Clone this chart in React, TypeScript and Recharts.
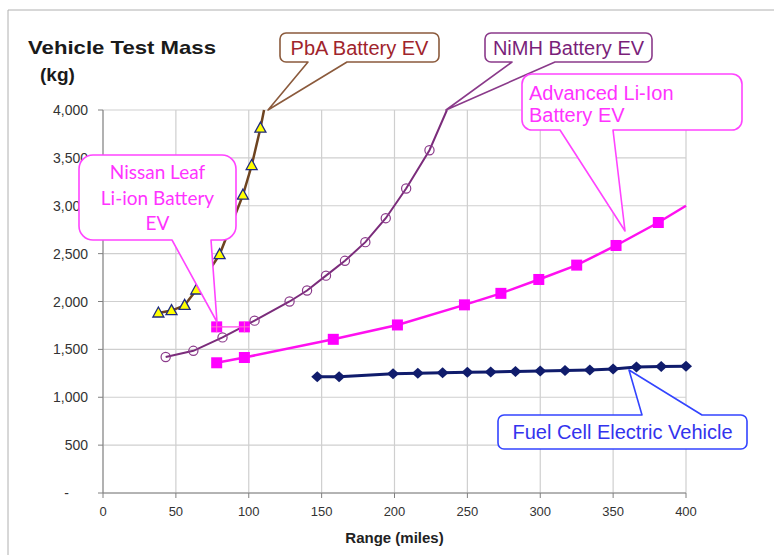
import { LineChart, Line, XAxis, YAxis, CartesianGrid } from "recharts";

// axis ticks
const xTicks = [0, 50, 100, 150, 200, 250, 300, 350, 400];
const yTicks = [0, 500, 1000, 1500, 2000, 2500, 3000, 3500, 4000];

// range (miles) / vehicle test mass (kg)
// last point of PbA, NiMH and advanced Li-ion = where the line leaves the plot
const pbaRange = [38, 47, 56, 64, 80, 96, 102, 108, 110.5];
const pbaMass = [1880, 1905, 1960, 2120, 2490, 3110, 3420, 3810, 4000];

const nimhRange = [43, 62, 82, 104, 128, 140, 153, 166, 180, 194, 208, 224, 236];
const nimhMass = [1420, 1485, 1625, 1800, 2000, 2115, 2270, 2425, 2620, 2870, 3180, 3580, 4000];

const advRange = [78, 97, 158, 202, 248, 273, 299, 325, 352, 381, 400];
const advMass = [1360, 1415, 1605, 1755, 1965, 2085, 2230, 2380, 2585, 2825, 3000];

const leafRange = [78, 97];
const leafMass = [1735, 1735];

const fcevRange = [147, 162, 199, 216, 233, 250, 266, 283, 300, 317, 334, 350, 366, 383, 400];
const fcevMass = [1215, 1215, 1245, 1250, 1255, 1260, 1265, 1270, 1275, 1280, 1285, 1295, 1315, 1322, 1325];

const zip = (xs: number[], ys: number[]) => xs.map((x, i) => ({ x, y: ys[i] }));

const pba = zip(pbaRange, pbaMass);
const nimh = zip(nimhRange, nimhMass);
const adv = zip(advRange, advMass);
const leaf = zip(leafRange, leafMass);
const fcev = zip(fcevRange, fcevMass);

const FONT = '"Liberation Sans", Arial, sans-serif';

const fmtMass = (v: number) => (v === 0 ? "-" : v.toLocaleString("en-US"));

// markers; `hide` = index of a point drawn without marker
const marker = (shape: string, hide: number | null) => (p: any) => {
  const { cx, cy, index } = p;
  const key = `${shape}-${index}`;
  if (cx == null || cy == null || index === hide) return <g key={key} />;
  if (shape === "tri")
    return (
      <polygon
        key={key}
        points={`${cx},${cy - 6} ${cx + 5.5},${cy + 4} ${cx - 5.5},${cy + 4}`}
        fill="#FFFF00"
        stroke="#1F2A80"
        strokeWidth={1.3}
      />
    );
  if (shape === "circle")
    return <circle key={key} cx={cx} cy={cy} r={4.6} fill="none" stroke="#8B3A8B" strokeWidth={1.2} />;
  if (shape === "square")
    return <rect key={key} x={cx - 5.5} y={cy - 5.5} width={11} height={11} fill="#FF00FF" />;
  if (shape === "leaf")
    return (
      <g key={key}>
        <rect x={cx - 5.5} y={cy - 5.5} width={11} height={11} fill="#FF00FF" />
        <path d={`M${cx - 5.5},${cy} H${cx + 5.5} M${cx},${cy - 5.5} V${cy + 5.5}`} stroke="#FF77CC" strokeWidth={1} />
      </g>
    );
  return (
    <polygon
      key={key}
      points={`${cx},${cy - 5.5} ${cx + 6},${cy} ${cx},${cy + 5.5} ${cx - 6},${cy}`}
      fill="#101C6C"
    />
  );
};

const XTick = (p: any) => (
  <text x={p.x} y={p.y + 16} textAnchor="middle" fontSize={13} fill="#333" fontFamily={FONT}>
    {p.payload.value}
  </text>
);

const YTick = (p: any) => {
  const v = p.payload.value;
  return (
    <text
      x={v === 0 ? p.x - 19 : p.x}
      y={p.y + 5}
      textAnchor="end"
      fontSize={14}
      fill="#333"
      fontFamily={FONT}
    >
      {fmtMass(v)}
    </text>
  );
};

// callout boxes: rounded box with a wedge pointing at the series
type Callout = {
  box: [number, number, number, number];
  r: number;
  side: "top" | "bottom";
  a: number;
  b: number;
  tip: [number, number];
  stroke: string;
  color: string;
  lines: string[];
  lineY: number[];
  textX: number;
  anchor: "start" | "middle";
  font: string;
  size: number;
};

const callouts: Callout[] = [
  {
    box: [280, 33, 159, 29], r: 6, side: "bottom", a: 308, b: 347, tip: [268, 110],
    stroke: "#8B5A3C", color: "#A0242C", lines: ["PbA Battery EV"], lineY: [55],
    textX: 359.5, anchor: "middle", font: FONT, size: 20,
  },
  {
    box: [485, 33, 167, 29], r: 6, side: "bottom", a: 512, b: 555, tip: [446, 110],
    stroke: "#8A3A8A", color: "#7A1F7A", lines: ["NiMH Battery EV"], lineY: [55],
    textX: 568.5, anchor: "middle", font: FONT, size: 20,
  },
  {
    box: [522, 74, 220, 56], r: 10, side: "bottom", a: 560, b: 613, tip: [625, 231],
    stroke: "#FF44FF", color: "#FF33FF", lines: ["Advanced Li-Ion", "Battery EV"], lineY: [100, 122],
    textX: 529, anchor: "start", font: FONT, size: 20,
  },
  {
    box: [79, 155, 157, 85], r: 14, side: "bottom", a: 172, b: 211, tip: [217, 322],
    stroke: "#FF44FF", color: "#FF33FF", lines: ["Nissan Leaf", "Li-ion Battery", "EV"], lineY: [179, 205, 230],
    textX: 157.5, anchor: "middle", font: 'Lato, "Open Sans", sans-serif', size: 19,
  },
  {
    box: [498, 415, 249, 34], r: 6, side: "top", a: 642, b: 702, tip: [629, 370],
    stroke: "#3344FF", color: "#3333EE", lines: ["Fuel Cell Electric Vehicle"], lineY: [439],
    textX: 622.5, anchor: "middle", font: FONT, size: 20,
  },
];

const calloutPath = (c: Callout) => {
  const [x, y, w, h] = c.box;
  const { r, a, b } = c;
  const [tx, ty] = c.tip;
  const R = x + w;
  const B = y + h;
  if (c.side === "bottom")
    return `M${x + r},${y} H${R - r} A${r},${r} 0 0 1 ${R},${y + r} V${B - r} A${r},${r} 0 0 1 ${R - r},${B} H${b} L${tx},${ty} L${a},${B} H${x + r} A${r},${r} 0 0 1 ${x},${B - r} V${y + r} A${r},${r} 0 0 1 ${x + r},${y} Z`;
  return `M${x + r},${y} H${a} L${tx},${ty} L${b},${y} H${R - r} A${r},${r} 0 0 1 ${R},${y + r} V${B - r} A${r},${r} 0 0 1 ${R - r},${B} H${x + r} A${r},${r} 0 0 1 ${x},${B - r} V${y + r} A${r},${r} 0 0 1 ${x + r},${y} Z`;
};

const App = () => {
  return (
    <div style={{ position: "relative", width: 774, height: 555, background: "white" }}>
      <style>{"body{margin:0}"}</style>
      <LineChart width={774} height={555} margin={{ top: 110, right: 88, bottom: 0, left: 0 }}>
        <CartesianGrid stroke="#CFCFCF" strokeWidth={1.2} />
        <XAxis
          type="number"
          dataKey="x"
          domain={[0, 400]}
          ticks={xTicks}
          height={62}
          stroke="#808080"
          tickSize={5}
          tickMargin={2}
          tick={<XTick />}
          label={{ value: "Range (miles)", position: "insideBottom", offset: 12, fontSize: 15, fontWeight: 700, fill: "#222", fontFamily: FONT }}
        />
        <YAxis
          type="number"
          dataKey="y"
          domain={[0, 4000]}
          ticks={yTicks}
          width={103}
          stroke="#808080"
          tickSize={5}
          tickMargin={10}
          tick={<YTick />}
        />
        <Line data={fcev} dataKey="y" type="linear" stroke="#101C6C" strokeWidth={3} dot={marker("diamond", null)} activeDot={false} isAnimationActive={false} />
        <Line data={adv} dataKey="y" type="linear" stroke="#FF10F0" strokeWidth={2.5} dot={marker("square", adv.length - 1)} activeDot={false} isAnimationActive={false} />
        <Line data={leaf} dataKey="y" type="linear" stroke="#FF66EE" strokeWidth={1.5} dot={marker("leaf", null)} activeDot={false} isAnimationActive={false} />
        <Line data={nimh} dataKey="y" type="linear" stroke="#7B2C7B" strokeWidth={2} dot={marker("circle", nimh.length - 1)} activeDot={false} isAnimationActive={false} />
        <Line data={pba} dataKey="y" type="linear" stroke="#6E4420" strokeWidth={2.5} dot={marker("tri", pba.length - 1)} activeDot={false} isAnimationActive={false} />
      </LineChart>

      <svg width={774} height={555} style={{ position: "absolute", left: 0, top: 0, pointerEvents: "none" }}>
        <path d="M8,555 V10 H774" fill="none" stroke="#B0B0B0" strokeWidth={1} />
        <text x={28} y={54} fontSize={19} fontWeight={700} fill="#1A1A1A" fontFamily={FONT} textLength={188} lengthAdjust="spacingAndGlyphs">
          Vehicle Test Mass
        </text>
        <text x={40} y={81} fontSize={19} fontWeight={700} fill="#1A1A1A" fontFamily={FONT}>
          (kg)
        </text>
        {callouts.map((c, i) => (
          <g key={i}>
            <path d={calloutPath(c)} fill="white" stroke={c.stroke} strokeWidth={1.6} strokeLinejoin="round" />
            {c.lines.map((t, j) => (
              <text key={j} x={c.textX} y={c.lineY[j]} textAnchor={c.anchor} fontSize={c.size} fill={c.color} fontFamily={c.font}>
                {t}
              </text>
            ))}
          </g>
        ))}
      </svg>
    </div>
  );
};

export default App;
